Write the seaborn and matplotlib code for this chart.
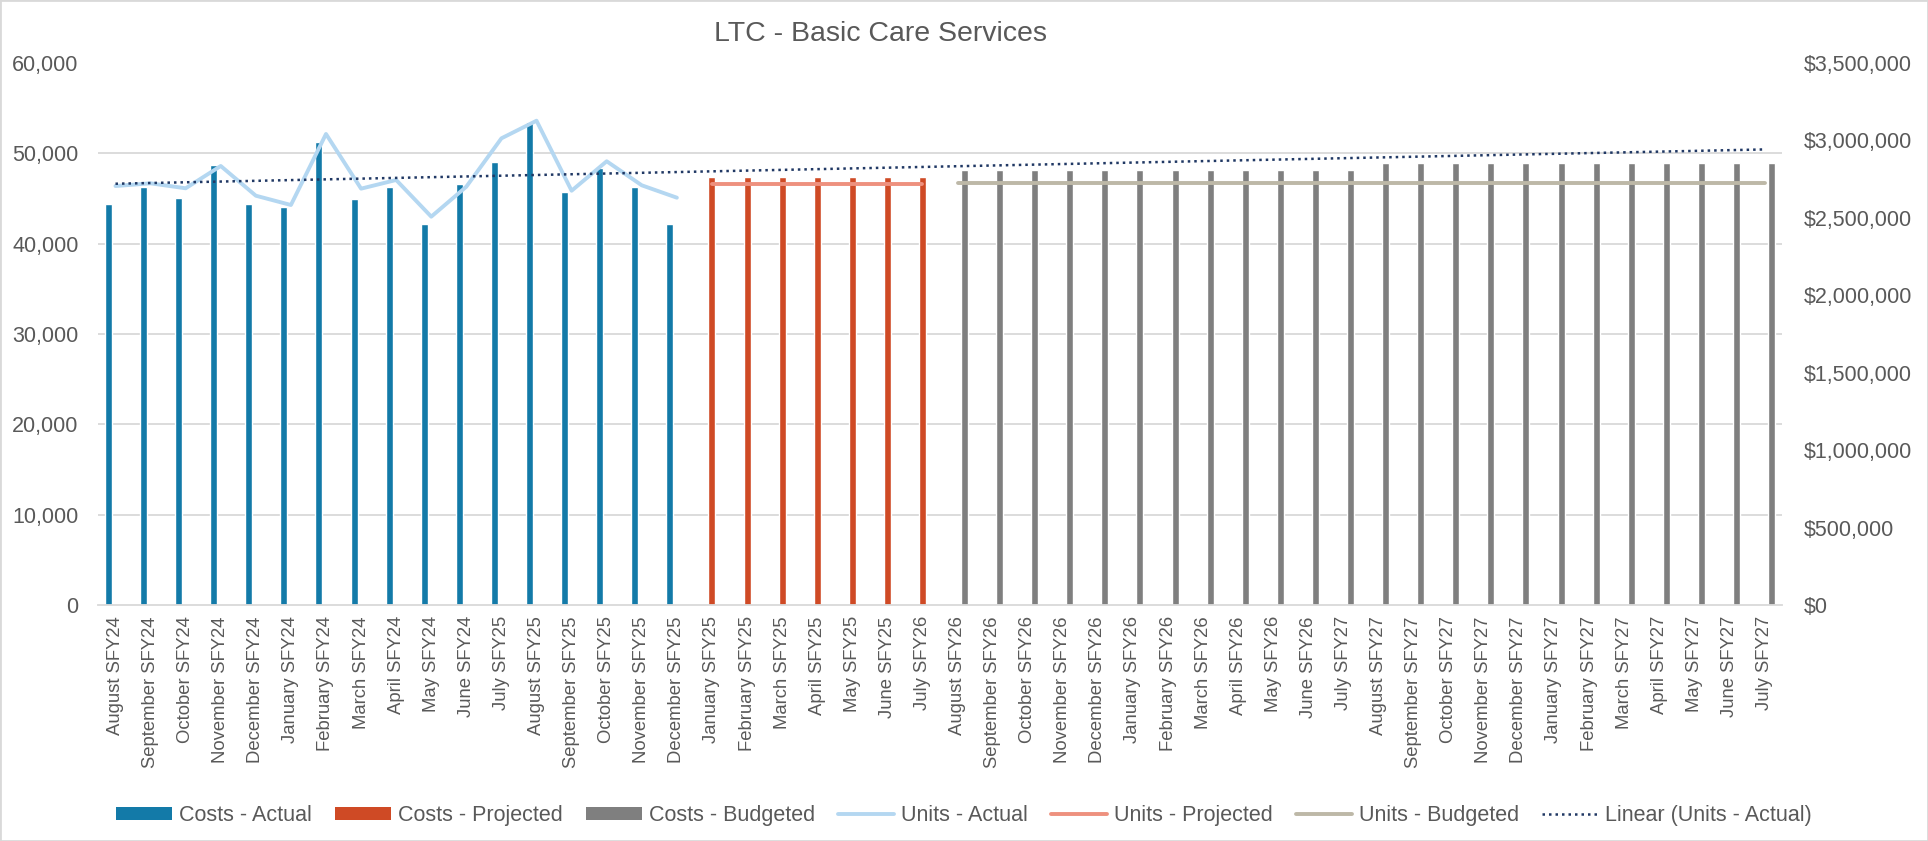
import numpy as np
import pandas as pd
import matplotlib
matplotlib.use("Agg")
import matplotlib.pyplot as plt
import seaborn as sns
from matplotlib.patches import Patch, Rectangle
from matplotlib.ticker import FuncFormatter, MultipleLocator, FixedLocator

# Month labels (the source repeats some labels, so x is positional)
months_actual = ["August SFY24", "September SFY24", "October SFY24", "November SFY24",
                 "December SFY24", "January SFY24", "February SFY24", "March SFY24",
                 "April SFY24", "May SFY24", "June SFY24", "July SFY25", "August SFY25",
                 "September SFY25", "October SFY25", "November SFY25", "December SFY25"]
months_projected = ["January SFY25", "February SFY25", "March SFY25", "April SFY25",
                    "May SFY25", "June SFY25", "July SFY26"]
months_budgeted = ["August SFY26", "September SFY26", "October SFY26", "November SFY26",
                   "December SFY26", "January SFY26", "February SFY26", "March SFY26",
                   "April SFY26", "May SFY26", "June SFY26", "July SFY27",
                   "August SFY27", "September SFY27", "October SFY27", "November SFY27",
                   "December SFY27", "January SFY27", "February SFY27", "March SFY27",
                   "April SFY27", "May SFY27", "June SFY27", "July SFY27"]

# Costs (right axis, $)
cost_actual = [2590000, 2700000, 2630000, 2840000, 2590000, 2570000, 2990000, 2620000,
               2700000, 2460000, 2720000, 2860000, 3120000, 2665000, 2820000, 2700000,
               2460000]
cost_projected = [2765000, 2765000, 2765000, 2765000, 2765000, 2765000, 2765000]
cost_budgeted = [2810000, 2810000, 2810000, 2810000, 2810000, 2810000, 2810000, 2810000,
                 2810000, 2810000, 2810000, 2810000, 2855000, 2855000, 2855000, 2855000,
                 2855000, 2855000, 2855000, 2855000, 2855000, 2855000, 2855000, 2855000]

# Units (left axis)
units_actual = [46380, 46680, 46130, 48600, 45310, 44280, 52140, 46090, 47050, 42990,
                46310, 51660, 53610, 45860, 49120, 46460, 45090]
units_projected = [46600, 46600, 46600, 46600, 46600, 46600, 46600]
units_budgeted = [46680, 46680, 46680, 46680, 46680, 46680, 46680, 46680, 46680, 46680,
                  46680, 46680, 46680, 46680, 46680, 46680, 46680, 46680, 46680, 46680,
                  46680, 46680, 46680, 46680]

kinds = ["Costs - Actual", "Costs - Projected", "Costs - Budgeted"]
bar_colors = ["#137AA8", "#CF4A25", "#7F7F7F"]

months = months_actual + months_projected + months_budgeted
n_a, n_p = len(months_actual), len(months_projected)
pos_actual = np.arange(n_a)
pos_projected = np.arange(n_a, n_a + n_p)
pos_budgeted = np.arange(n_a + n_p, len(months))

bars = pd.DataFrame({
    "pos": np.concatenate([pos_actual, pos_projected, pos_budgeted]),
    "cost": cost_actual + cost_projected + cost_budgeted,
    "kind": [kinds[0]] * n_a + [kinds[1]] * n_p + [kinds[2]] * len(months_budgeted),
})

sns.set_style("white")
plt.rcParams["font.family"] = ["Liberation Sans", "DejaVu Sans"]
txt = "#595959"

fig = plt.figure(figsize=(19.28, 8.41), dpi=100)
ax = fig.add_axes([0.0508, 0.2806, 0.8735, 0.6445])

# Bars (costs) on primary axis
sns.barplot(data=bars, x="pos", y="cost", hue="kind", hue_order=kinds,
            palette=bar_colors, width=0.6, dodge=True, saturation=1,
            legend=False, ax=ax)

# Units lines on twin axis
ax2 = ax.twinx()
sns.lineplot(x=pos_actual, y=units_actual, color="#B4D7F1", lw=2.8,
             label="Units - Actual", ax=ax2)
sns.lineplot(x=pos_projected, y=units_projected, color="#EE917E", lw=2.8,
             label="Units - Projected", ax=ax2)
sns.lineplot(x=pos_budgeted, y=units_budgeted, color="#BDB8A7", lw=2.8,
             label="Units - Budgeted", ax=ax2)
coef = np.polyfit(pos_actual, units_actual, 1)
trend_x = np.arange(len(months))
ax2.plot(trend_x, np.polyval(coef, trend_x), color="#203864", lw=1.8,
         linestyle=(0, (1, 1.6)), label="Linear (Units - Actual)")
if ax2.get_legend() is not None:
    ax2.get_legend().remove()

# costs axis: ticks on right
ax.set_ylim(0, 3500000)
ax.set_xlim(-0.5, len(months) - 0.5)
ax.yaxis.tick_right()
ax.yaxis.set_major_locator(MultipleLocator(500000))
ax.yaxis.set_major_formatter(FuncFormatter(lambda v, p: "${:,.0f}".format(v)))
# gridlines aligned to the units axis (0..60,000 by 10,000)
ax.yaxis.set_minor_locator(FixedLocator(np.linspace(0, 3500000, 7)))
ax.grid(which="minor", axis="y", color="#D9D9D9", lw=1.3)
ax.grid(which="major", axis="y", visible=False)
ax.set_axisbelow(True)
ax.set_xticks(range(len(months)))
ax.set_xticklabels(months, rotation=90, fontsize=13.3, color=txt)
ax.set_xlabel("")
ax.set_ylabel("")
ax.tick_params(axis="x", length=0, pad=8)
ax.tick_params(axis="y", which="both", length=0, pad=16, labelsize=15.5, labelcolor=txt)
for s in ["top", "left", "right"]:
    ax.spines[s].set_visible(False)
ax.spines["bottom"].set_color("#D9D9D9")
ax.spines["bottom"].set_linewidth(1.3)

# units axis: ticks on left
ax2.set_ylim(0, 60000)
ax2.yaxis.tick_left()
ax2.yaxis.set_major_locator(MultipleLocator(10000))
ax2.yaxis.set_major_formatter(FuncFormatter(lambda v, p: "{:,.0f}".format(v)))
ax2.tick_params(axis="y", length=0, pad=14, labelsize=15.5, labelcolor=txt)
ax2.set_ylabel("")
for s in ax2.spines.values():
    s.set_visible(False)

# Legend
line_handles, line_labels = ax2.get_legend_handles_labels()
bar_handles = [Patch(facecolor=c, edgecolor="none") for c in bar_colors]
fig.legend(bar_handles + line_handles, kinds + line_labels,
           loc="center", bbox_to_anchor=(0.5, 0.03), ncol=7, frameon=False,
           fontsize=15.5, labelcolor=txt, handlelength=2.6, handleheight=0.55,
           handletextpad=0.3, columnspacing=1.1)

fig.text(0.4566, 1 - 34 / 841, "LTC - Basic Care Services", ha="center", va="center",
         fontsize=20.5, color=txt)
fig.patches.append(Rectangle((0, 0), 1, 1, transform=fig.transFigure, fill=False,
                             edgecolor="#D9D9D9", lw=2))

fig.savefig("out.png", dpi=100, facecolor="white")
